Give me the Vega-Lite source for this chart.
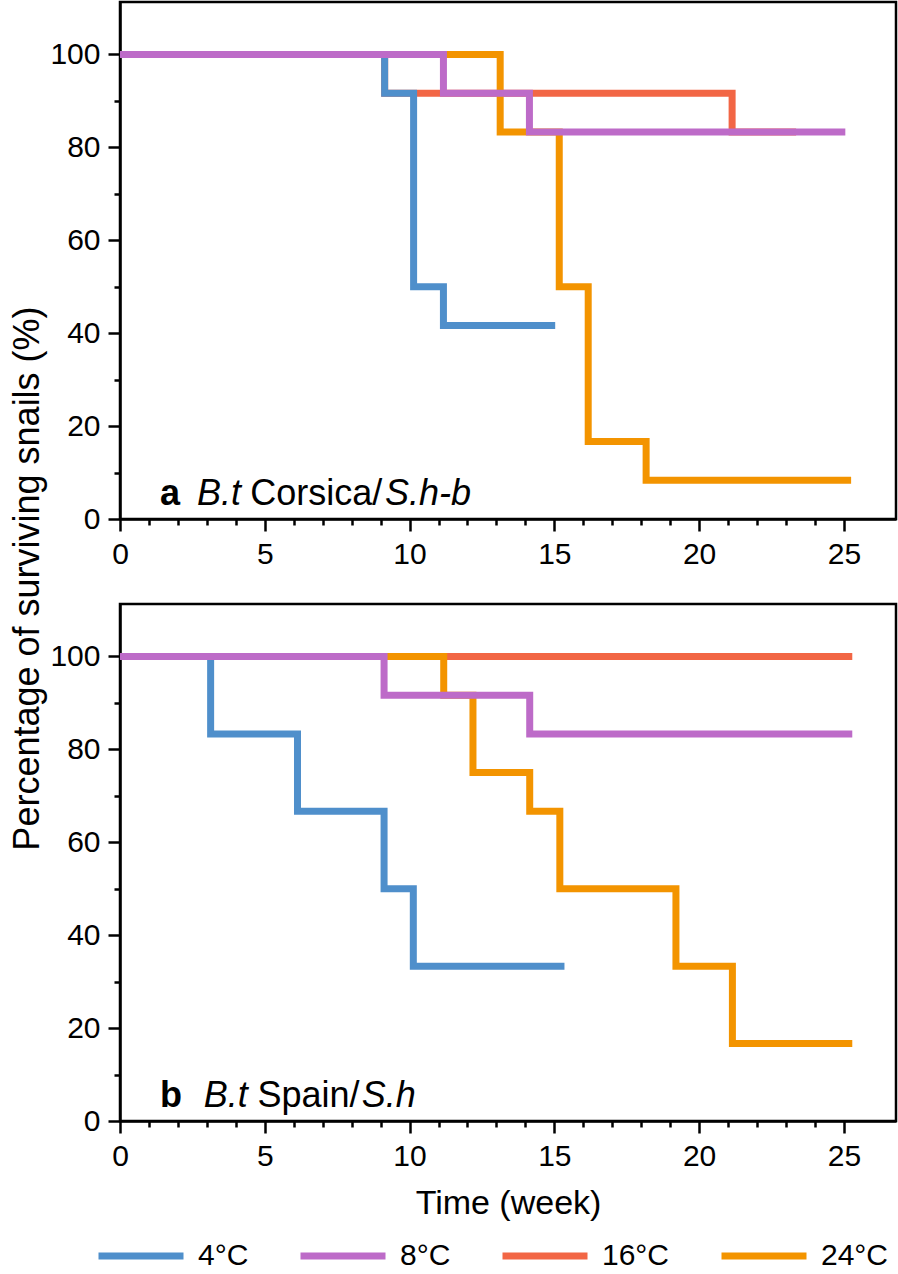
{
  "$schema": "https://vega.github.io/schema/vega-lite/v6.json",
  "padding": {"left": 8, "top": 0, "right": 0, "bottom": 0},
  "autosize": {"type": "pad"},
  "bounds": "flush",
  "spacing": 85,
  "config": {
    "font": "Liberation Sans",
    "view": {"stroke": "#000000", "strokeWidth": 2.5},
    "axis": {
      "grid": false,
      "domainColor": "#000000",
      "domainWidth": 2.5,
      "tickColor": "#000000",
      "tickWidth": 2.5,
      "labelFont": "Liberation Sans",
      "labelFontSize": 30,
      "labelColor": "#000000",
      "labelPadding": 8,
      "labelOverlap": false,
      "labelFlush": false,
      "titleFont": "Liberation Sans",
      "titleFontWeight": "normal",
      "titleColor": "#000000"
    },
    "legend": {
      "title": null,
      "symbolType": "stroke",
      "symbolSize": 7225,
      "symbolStrokeWidth": 7,
      "labelFont": "Liberation Sans",
      "labelFontSize": 30,
      "labelColor": "#000000",
      "labelOffset": 11,
      "columnPadding": 37
    }
  },
  "datasets": {
    "a": [
      {"temp": "16°C", "week": 0, "pct": 100},
      {"temp": "16°C", "week": 9.14, "pct": 91.67},
      {"temp": "16°C", "week": 21.14, "pct": 83.33},
      {"temp": "16°C", "week": 23.35, "pct": 83.33},
      {"temp": "24°C", "week": 0, "pct": 100},
      {"temp": "24°C", "week": 13.13, "pct": 83.33},
      {"temp": "24°C", "week": 15.17, "pct": 50},
      {"temp": "24°C", "week": 16.17, "pct": 16.67},
      {"temp": "24°C", "week": 18.17, "pct": 8.33},
      {"temp": "24°C", "week": 25.25, "pct": 8.33},
      {"temp": "4°C", "week": 0, "pct": 100},
      {"temp": "4°C", "week": 9.14, "pct": 91.67},
      {"temp": "4°C", "week": 10.14, "pct": 50},
      {"temp": "4°C", "week": 11.17, "pct": 41.67},
      {"temp": "4°C", "week": 15.03, "pct": 41.67},
      {"temp": "8°C", "week": 0, "pct": 100},
      {"temp": "8°C", "week": 11.17, "pct": 91.67},
      {"temp": "8°C", "week": 14.14, "pct": 83.33},
      {"temp": "8°C", "week": 25.05, "pct": 83.33}
    ],
    "b": [
      {"temp": "16°C", "week": 0, "pct": 100},
      {"temp": "16°C", "week": 25.29, "pct": 100},
      {"temp": "24°C", "week": 0, "pct": 100},
      {"temp": "24°C", "week": 11.18, "pct": 91.67},
      {"temp": "24°C", "week": 12.19, "pct": 75},
      {"temp": "24°C", "week": 14.15, "pct": 66.67},
      {"temp": "24°C", "week": 15.19, "pct": 50},
      {"temp": "24°C", "week": 19.2, "pct": 33.33},
      {"temp": "24°C", "week": 21.15, "pct": 16.67},
      {"temp": "24°C", "week": 25.29, "pct": 16.67},
      {"temp": "4°C", "week": 0, "pct": 100},
      {"temp": "4°C", "week": 3.13, "pct": 83.33},
      {"temp": "4°C", "week": 6.13, "pct": 66.67},
      {"temp": "4°C", "week": 9.12, "pct": 50},
      {"temp": "4°C", "week": 10.13, "pct": 33.33},
      {"temp": "4°C", "week": 15.35, "pct": 33.33},
      {"temp": "8°C", "week": 0, "pct": 100},
      {"temp": "8°C", "week": 9.12, "pct": 91.67},
      {"temp": "8°C", "week": 14.15, "pct": 83.33},
      {"temp": "8°C", "week": 25.29, "pct": 83.33}
    ]
  },
  "vconcat": [
    {
      "width": 776,
      "height": 517,
      "layer": [
        {
          "data": {"name": "a"},
          "mark": {"type": "line", "interpolate": "step-after", "strokeWidth": 7, "strokeCap": "butt", "strokeJoin": "miter"},
          "encoding": {
            "x": {
              "field": "week", "type": "quantitative",
              "scale": {"domain": [0, 26.8], "nice": false, "zero": false},
              "axis": {"title": null, "values": [0,1,2,3,4,5,6,7,8,9,10,11,12,13,14,15,16,17,18,19,20,21,22,23,24,25], "labelExpr": "datum.value % 5 === 0 ? datum.label : ''", "tickSize": {"condition": {"test": "datum.value % 5 === 0", "value": 12}, "value": 6}}
            },
            "y": {
              "field": "pct", "type": "quantitative",
              "scale": {"domain": [0, 111.3], "nice": false},
              "axis": {"title": "Percentage of surviving snails (%)", "titleFontSize": 36, "titlePadding": 3, "titleY": 576, "values": [0,10,20,30,40,50,60,70,80,90,100], "labelExpr": "datum.value % 20 === 0 ? datum.label : ''", "tickSize": {"condition": {"test": "datum.value % 20 === 0", "value": 12}, "value": 6}}
            },
            "color": {
              "field": "temp", "type": "nominal",
              "scale": {"domain": ["4°C", "8°C", "16°C", "24°C"], "range": ["#4f8fcb", "#bd6bc8", "#f26645", "#f39400"]},
              "legend": {"title": null, "orient": "none", "direction": "horizontal", "legendX": -25, "legendY": 1208}
            }
          }
        },
        {
          "data": {"values": [{}]},
          "mark": {"type": "text", "fontSize": 36, "fontWeight": "bold", "align": "left", "baseline": "alphabetic", "color": "#000000"},
          "encoding": {
            "x": {"datum": 1.38, "type": "quantitative", "axis": {"title": null, "values": [0,1,2,3,4,5,6,7,8,9,10,11,12,13,14,15,16,17,18,19,20,21,22,23,24,25], "labelExpr": "datum.value % 5 === 0 ? datum.label : ''", "tickSize": {"condition": {"test": "datum.value % 5 === 0", "value": 12}, "value": 6}}},
            "y": {"datum": 3, "type": "quantitative", "axis": {"title": "Percentage of surviving snails (%)", "titleFontSize": 36, "titlePadding": 3, "titleY": 576, "values": [0,10,20,30,40,50,60,70,80,90,100], "labelExpr": "datum.value % 20 === 0 ? datum.label : ''", "tickSize": {"condition": {"test": "datum.value % 20 === 0", "value": 12}, "value": 6}}},
            "text": {"value": "a"}
          }
        },
        {
          "data": {"values": [{}]},
          "mark": {"type": "text", "fontSize": 36, "fontStyle": "italic", "align": "left", "baseline": "alphabetic", "color": "#000000"},
          "encoding": {
            "x": {"datum": 2.66, "type": "quantitative", "axis": {"title": null, "values": [0,1,2,3,4,5,6,7,8,9,10,11,12,13,14,15,16,17,18,19,20,21,22,23,24,25], "labelExpr": "datum.value % 5 === 0 ? datum.label : ''", "tickSize": {"condition": {"test": "datum.value % 5 === 0", "value": 12}, "value": 6}}},
            "y": {"datum": 3, "type": "quantitative", "axis": {"title": "Percentage of surviving snails (%)", "titleFontSize": 36, "titlePadding": 3, "titleY": 576, "values": [0,10,20,30,40,50,60,70,80,90,100], "labelExpr": "datum.value % 20 === 0 ? datum.label : ''", "tickSize": {"condition": {"test": "datum.value % 20 === 0", "value": 12}, "value": 6}}},
            "text": {"value": "B.t"}
          }
        },
        {
          "data": {"values": [{}]},
          "mark": {"type": "text", "fontSize": 36, "align": "left", "baseline": "alphabetic", "color": "#000000"},
          "encoding": {
            "x": {"datum": 4.5, "type": "quantitative", "axis": {"title": null, "values": [0,1,2,3,4,5,6,7,8,9,10,11,12,13,14,15,16,17,18,19,20,21,22,23,24,25], "labelExpr": "datum.value % 5 === 0 ? datum.label : ''", "tickSize": {"condition": {"test": "datum.value % 5 === 0", "value": 12}, "value": 6}}},
            "y": {"datum": 3, "type": "quantitative", "axis": {"title": "Percentage of surviving snails (%)", "titleFontSize": 36, "titlePadding": 3, "titleY": 576, "values": [0,10,20,30,40,50,60,70,80,90,100], "labelExpr": "datum.value % 20 === 0 ? datum.label : ''", "tickSize": {"condition": {"test": "datum.value % 20 === 0", "value": 12}, "value": 6}}},
            "text": {"value": "Corsica/"}
          }
        },
        {
          "data": {"values": [{}]},
          "mark": {"type": "text", "fontSize": 36, "fontStyle": "italic", "align": "left", "baseline": "alphabetic", "color": "#000000"},
          "encoding": {
            "x": {"datum": 9.15, "type": "quantitative", "axis": {"title": null, "values": [0,1,2,3,4,5,6,7,8,9,10,11,12,13,14,15,16,17,18,19,20,21,22,23,24,25], "labelExpr": "datum.value % 5 === 0 ? datum.label : ''", "tickSize": {"condition": {"test": "datum.value % 5 === 0", "value": 12}, "value": 6}}},
            "y": {"datum": 3, "type": "quantitative", "axis": {"title": "Percentage of surviving snails (%)", "titleFontSize": 36, "titlePadding": 3, "titleY": 576, "values": [0,10,20,30,40,50,60,70,80,90,100], "labelExpr": "datum.value % 20 === 0 ? datum.label : ''", "tickSize": {"condition": {"test": "datum.value % 20 === 0", "value": 12}, "value": 6}}},
            "text": {"value": "S.h-b"}
          }
        }
      ]
    },
    {
      "width": 776,
      "height": 517,
      "layer": [
        {
          "data": {"name": "b"},
          "mark": {"type": "line", "interpolate": "step-after", "strokeWidth": 7, "strokeCap": "butt", "strokeJoin": "miter"},
          "encoding": {
            "x": {
              "field": "week", "type": "quantitative",
              "scale": {"domain": [0, 26.8], "nice": false, "zero": false},
              "axis": {"title": "Time (week)", "titleFontSize": 34, "titlePadding": 15, "values": [0,1,2,3,4,5,6,7,8,9,10,11,12,13,14,15,16,17,18,19,20,21,22,23,24,25], "labelExpr": "datum.value % 5 === 0 ? datum.label : ''", "tickSize": {"condition": {"test": "datum.value % 5 === 0", "value": 12}, "value": 6}}
            },
            "y": {
              "field": "pct", "type": "quantitative",
              "scale": {"domain": [0, 111.3], "nice": false},
              "axis": {"title": null, "values": [0,10,20,30,40,50,60,70,80,90,100], "labelExpr": "datum.value % 20 === 0 ? datum.label : ''", "tickSize": {"condition": {"test": "datum.value % 20 === 0", "value": 12}, "value": 6}}
            },
            "color": {
              "field": "temp", "type": "nominal",
              "scale": {"domain": ["4°C", "8°C", "16°C", "24°C"], "range": ["#4f8fcb", "#bd6bc8", "#f26645", "#f39400"]},
              "legend": {"title": null, "orient": "none", "direction": "horizontal", "legendX": -25, "legendY": 1208}
            }
          }
        },
        {
          "data": {"values": [{}]},
          "mark": {"type": "text", "fontSize": 36, "fontWeight": "bold", "align": "left", "baseline": "alphabetic", "color": "#000000"},
          "encoding": {
            "x": {"datum": 1.38, "type": "quantitative", "axis": {"title": "Time (week)", "titleFontSize": 34, "titlePadding": 15, "values": [0,1,2,3,4,5,6,7,8,9,10,11,12,13,14,15,16,17,18,19,20,21,22,23,24,25], "labelExpr": "datum.value % 5 === 0 ? datum.label : ''", "tickSize": {"condition": {"test": "datum.value % 5 === 0", "value": 12}, "value": 6}}},
            "y": {"datum": 3, "type": "quantitative", "axis": {"title": null, "values": [0,10,20,30,40,50,60,70,80,90,100], "labelExpr": "datum.value % 20 === 0 ? datum.label : ''", "tickSize": {"condition": {"test": "datum.value % 20 === 0", "value": 12}, "value": 6}}},
            "text": {"value": "b"}
          }
        },
        {
          "data": {"values": [{}]},
          "mark": {"type": "text", "fontSize": 36, "fontStyle": "italic", "align": "left", "baseline": "alphabetic", "color": "#000000"},
          "encoding": {
            "x": {"datum": 2.89, "type": "quantitative", "axis": {"title": "Time (week)", "titleFontSize": 34, "titlePadding": 15, "values": [0,1,2,3,4,5,6,7,8,9,10,11,12,13,14,15,16,17,18,19,20,21,22,23,24,25], "labelExpr": "datum.value % 5 === 0 ? datum.label : ''", "tickSize": {"condition": {"test": "datum.value % 5 === 0", "value": 12}, "value": 6}}},
            "y": {"datum": 3, "type": "quantitative", "axis": {"title": null, "values": [0,10,20,30,40,50,60,70,80,90,100], "labelExpr": "datum.value % 20 === 0 ? datum.label : ''", "tickSize": {"condition": {"test": "datum.value % 20 === 0", "value": 12}, "value": 6}}},
            "text": {"value": "B.t"}
          }
        },
        {
          "data": {"values": [{}]},
          "mark": {"type": "text", "fontSize": 36, "align": "left", "baseline": "alphabetic", "color": "#000000"},
          "encoding": {
            "x": {"datum": 4.75, "type": "quantitative", "axis": {"title": "Time (week)", "titleFontSize": 34, "titlePadding": 15, "values": [0,1,2,3,4,5,6,7,8,9,10,11,12,13,14,15,16,17,18,19,20,21,22,23,24,25], "labelExpr": "datum.value % 5 === 0 ? datum.label : ''", "tickSize": {"condition": {"test": "datum.value % 5 === 0", "value": 12}, "value": 6}}},
            "y": {"datum": 3, "type": "quantitative", "axis": {"title": null, "values": [0,10,20,30,40,50,60,70,80,90,100], "labelExpr": "datum.value % 20 === 0 ? datum.label : ''", "tickSize": {"condition": {"test": "datum.value % 20 === 0", "value": 12}, "value": 6}}},
            "text": {"value": "Spain/"}
          }
        },
        {
          "data": {"values": [{}]},
          "mark": {"type": "text", "fontSize": 36, "fontStyle": "italic", "align": "left", "baseline": "alphabetic", "color": "#000000"},
          "encoding": {
            "x": {"datum": 8.35, "type": "quantitative", "axis": {"title": "Time (week)", "titleFontSize": 34, "titlePadding": 15, "values": [0,1,2,3,4,5,6,7,8,9,10,11,12,13,14,15,16,17,18,19,20,21,22,23,24,25], "labelExpr": "datum.value % 5 === 0 ? datum.label : ''", "tickSize": {"condition": {"test": "datum.value % 5 === 0", "value": 12}, "value": 6}}},
            "y": {"datum": 3, "type": "quantitative", "axis": {"title": null, "values": [0,10,20,30,40,50,60,70,80,90,100], "labelExpr": "datum.value % 20 === 0 ? datum.label : ''", "tickSize": {"condition": {"test": "datum.value % 20 === 0", "value": 12}, "value": 6}}},
            "text": {"value": "S.h"}
          }
        }
      ]
    }
  ]
}
